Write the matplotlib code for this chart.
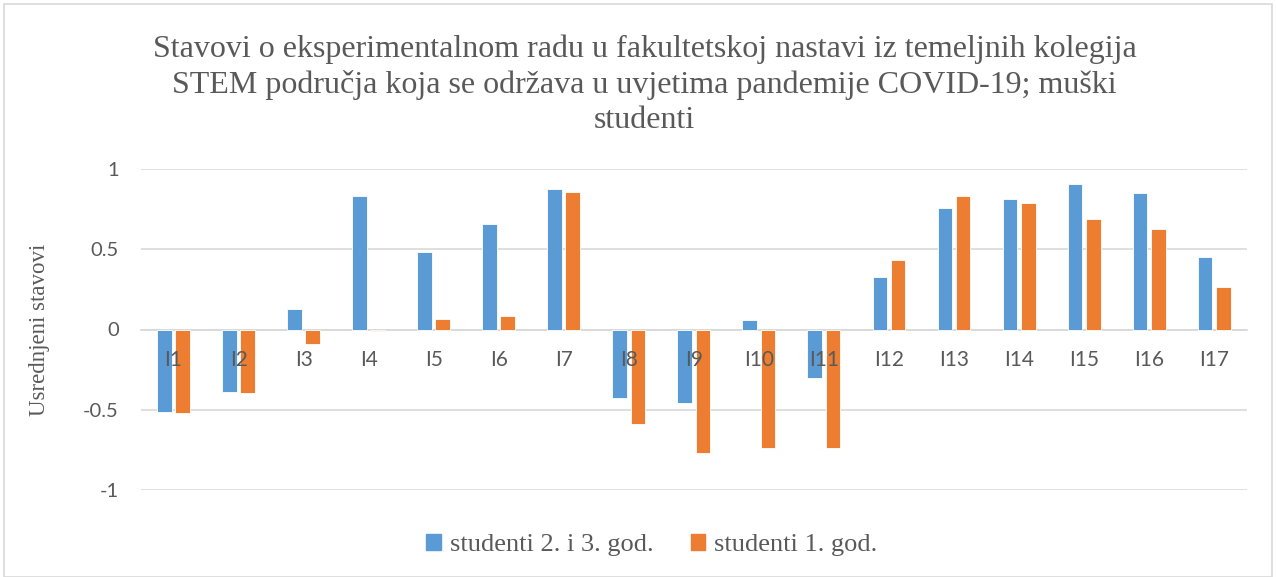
import numpy as np
import matplotlib.pyplot as plt
from matplotlib.patches import Rectangle, Patch

categories = ["I%d" % i for i in range(1, 18)]
studenti_23 = [-0.515, -0.39, 0.127, 0.833, 0.484, 0.657, 0.875, -0.424, -0.457,
               0.058, -0.303, 0.33, 0.756, 0.812, 0.908, 0.85, 0.453]
studenti_1 = [-0.521, -0.393, -0.089, -0.01, 0.067, 0.085, 0.858, -0.586, -0.768,
              -0.741, -0.737, 0.432, 0.831, 0.789, 0.69, 0.629, 0.264]
yticks = [-1, -0.5, 0, 0.5, 1]
ytick_labels = ["-1", "-0.5", "0", "0.5", "1"]

blue = "#5B9BD5"
orange = "#ED7D31"
grey = "#595959"
serif = "Liberation Serif"
sans = "Lato"

fig = plt.figure(figsize=(12.76, 5.77), dpi=100)
ax = fig.add_axes([141 / 1276, 1 - 490 / 577, 1106 / 1276, 321 / 577])

x = np.arange(len(categories))
w = 0.225
ax.bar(x - 0.143, studenti_23, w, color=blue, edgecolor="white", linewidth=0.6, zorder=3)
ax.bar(x + 0.137, studenti_1, w, color=orange, edgecolor="white", linewidth=0.6, zorder=3)

ax.set_xlim(-0.5, len(categories) - 0.5)
ax.set_ylim(-1, 1)
ax.set_yticks(yticks)
ax.set_yticklabels(ytick_labels, fontsize=14.5, color=grey, family=sans)
ax.yaxis.grid(True, color="#d9d9d9", linewidth=1.2, zorder=0)
ax.tick_params(axis="y", length=0, pad=16)

ax.spines["bottom"].set_position(("data", 0))
for s in ["top", "right", "left"]:
    ax.spines[s].set_visible(False)
ax.spines["bottom"].set_color("#d9d9d9")
ax.spines["bottom"].set_linewidth(1.2)
ax.set_xticks([])
# category labels sit next to the zero line, drawn over the bars
for i, lab in enumerate(categories):
    ax.text(i, -0.19, lab, ha="center", va="center", fontsize=15, color=grey,
            family=sans, zorder=5)

ax.set_ylabel("Usrednjeni stavovi", fontsize=16.5, color=grey, family=serif, labelpad=24)

fig.text(0.505, 1 - 85 / 577,
         "Stavovi o eksperimentalnom radu u fakultetskoj nastavi iz temeljnih kolegija\n"
         "STEM područja koja se održava u uvjetima pandemije COVID-19; muški\n"
         "studenti",
         ha="center", va="center", fontsize=23, color=grey, family=serif, linespacing=1.27)

handles = [Patch(color=blue, label="studenti 2. i 3. god."),
           Patch(color=orange, label="studenti 1. god.")]
leg = fig.legend(handles=handles, loc="center", bbox_to_anchor=(0.511, 1 - 545 / 577),
                 ncol=2, frameon=False, handlelength=0.55, handleheight=0.55,
                 handletextpad=0.35, columnspacing=1.4,
                 prop={"family": serif, "size": 19})
for t in leg.get_texts():
    t.set_color(grey)

fig.patches.append(Rectangle((0.003, 0.0), 0.994, 0.993, transform=fig.transFigure,
                             fill=False, edgecolor="#d9d9d9", linewidth=1.2))

fig.savefig("out.png", dpi=100)
